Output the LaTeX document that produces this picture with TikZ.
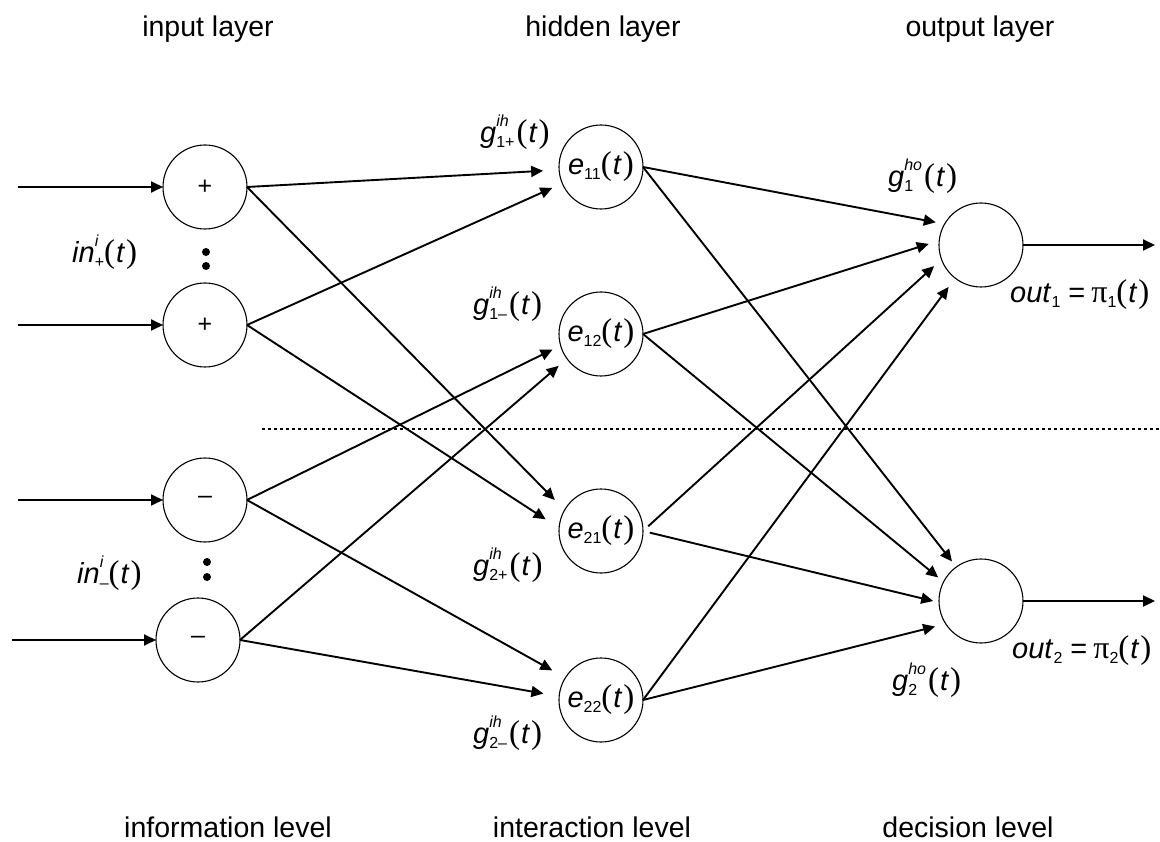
\documentclass[tikz,border=0pt]{standalone}
\usepackage{fontspec}
\setmainfont{Liberation Sans}
\newfontfamily\grkfont{Liberation Serif}
\usetikzlibrary{arrows.meta}
\newcommand\mysupsub[2]{%
  \begingroup\fontsize{16}{16}\selectfont
  \setbox0=\hbox{#1}\setbox2=\hbox{#2}%
  \ifdim\wd0>\wd2 \dimen0=\wd0 \else \dimen0=\wd2 \fi
  \hbox to \dimen0{\rlap{\raise 16pt\box0}\lower 5pt\box2\hfil}%
  \endgroup}
\newcommand\lowsub[1]{\lower5pt\hbox{\fontsize{16}{16}\selectfont #1}}
\newcommand\ofT{{\grkfont\fontsize{33}{33}\selectfont(}\kern1pt\textit{t}\kern1pt{\grkfont\fontsize{33}{33}\selectfont)}}
\newcommand\glab[2]{\textit{g}\mysupsub{\itshape #1}{#2}\kern2pt\ofT}
\tikzset{
  neuron/.style={circle, draw, line width=1.1pt, minimum size=84pt, inner sep=0pt, outer sep=0pt, font=\fontsize{29}{34}\selectfont},
  inp/.style={neuron, font=\fontsize{25}{30}\selectfont},
  conn/.style={line width=1.9pt, -{Triangle[length=12pt,width=11pt]}},
  lab/.style={anchor=base west, inner sep=0pt, font=\fontsize{29}{34}\selectfont},
  title/.style={anchor=base, inner sep=0pt, font=\fontsize{28.5}{34}\selectfont},
  sep/.style={line width=1.5pt, dash pattern=on 3pt off 3pt}
}
\begin{document}
\begin{tikzpicture}[x=1pt,y=-1pt]
\useasboundingbox (0,0) rectangle (1160,842);
% titles
\node[title] (t1) at (208,37) {input layer};
\node[title] (t2) at (603,37) {hidden layer};
\node[title] (t3) at (980,37) {output layer};
\node[title] (b1) at (228,837) {information level};
\node[title] (b2) at (592,837) {interaction level};
\node[title] (b3) at (968,837) {decision level};
% separator
\coordinate (sl) at (262,429);
\coordinate (sr) at (1160,429);
\draw[sep] (sl) -- (sr);
% input nodes
\node[inp] (p1) at (205,187) {+};
\node[inp] (p2) at (205,325) {+};
\node[inp] (m1) at (205,500) {–};
\node[inp] (m2) at (198,640) {–};
% hidden nodes
\node[neuron] (e11) at (601,167) {\textit{e}\lowsub{11}\ofT};
\node[neuron] (e12) at (601,334) {\textit{e}\lowsub{12}\ofT};
\node[neuron] (e21) at (601,531) {\textit{e}\lowsub{21}\ofT};
\node[neuron] (e22) at (601,700) {\textit{e}\lowsub{22}\ofT};
% output nodes
\node[neuron] (o1) at (981,245) {};
\node[neuron] (o2) at (981,601) {};
% dots
\fill (206,252) circle (4);
\fill (206,266) circle (4);
\fill (207,562) circle (4);
\fill (207,577) circle (4);
% input arrows
\coordinate (ip1) at (18,187);
\coordinate (ip2) at (18,325);
\coordinate (im1) at (18,500);
\coordinate (im2) at (12,640);
\draw[conn] (ip1) -- (p1.west);
\draw[conn] (ip2) -- (p2.west);
\draw[conn] (im1) -- (m1.west);
\draw[conn] (im2) -- (m2.west);
% input -> hidden
\draw[conn, shorten >=16pt] (p1.east) -- (e11.184);
\draw[conn, shorten >=11pt] (p2.east) -- (e11.203);
\draw[conn, shorten >=14pt] (p1.east) -- (e21.150);
\draw[conn, shorten >=16pt] (p2.east) -- (e21.176);
\draw[conn, shorten >=9pt] (m1.east) -- (e12.196);
\draw[conn, shorten >=11pt] (m2.east) -- (e12.216);
\draw[conn, shorten >=15pt] (m1.east) -- (e22.148.5);
\draw[conn, shorten >=16pt] (m2.east) -- (e22.175);
% hidden -> output
\draw[conn, shorten >=9pt] (e11.east) -- (o1.150.4);
\draw[conn, shorten >=11pt] (e12.east) -- (o1.174.6);
\draw[conn, shorten >=10pt, shorten <=7pt] (e21.east) -- (o1.200);
\draw[conn, shorten >=11pt] (e22.east) -- (o1.232);
\draw[conn, shorten >=7pt] (e11.east) -- (o2.126.6);
\draw[conn, shorten >=7pt] (e12.east) -- (o2.153.4);
\draw[conn, shorten >=6pt, shorten <=7pt] (e21.east) -- (o2.182.4);
\draw[conn, shorten >=11pt] (e22.east) -- (o2.213.4);
% output arrows
\coordinate (op1) at (1155,245);
\coordinate (op2) at (1155,601);
\draw[conn] (o1.east) -- (op1);
\draw[conn] (o2.east) -- (op2);
% labels
\node[lab] (lin1) at (72,263) {\textit{in}\mysupsub{\itshape i}{+}\ofT};
\node[lab] (lin2) at (77,583) {\textit{in}\mysupsub{\itshape i}{–}\ofT};
\node[lab] (g1p) at (480,143) {\glab{ih}{1+}};
\node[lab] (g1m) at (473,315) {\glab{ih}{1–}};
\node[lab] (g2p) at (473,575) {\glab{ih}{2+}};
\node[lab] (g2m) at (473,743) {\glab{ih}{2–}};
\node[lab] (gho1) at (888,187) {\glab{ho}{1}};
\node[lab] (gho2) at (892,690) {\glab{ho}{2}};
\node[lab] (out1) at (1010,303) {\textit{out}\lowsub{1}\kern8pt=\kern6pt{\grkfont\fontsize{32}{32}\selectfont π}\lowsub{1}\ofT};
\node[lab] (out2) at (1012,658) {\textit{out}\lowsub{2}\kern8pt=\kern6pt{\grkfont\fontsize{32}{32}\selectfont π}\lowsub{2}\ofT};
\end{tikzpicture}
\end{document}
